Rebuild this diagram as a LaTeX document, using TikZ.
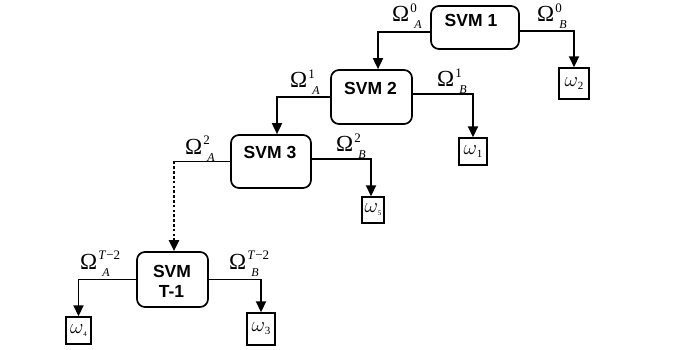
\documentclass[tikz,border=0pt]{standalone}
\usepackage{fontspec}
\setmainfont{Liberation Serif}
\newfontfamily\arialb{Liberation Sans}[BoldFont={* Bold}]
\usetikzlibrary{arrows.meta}
\newcommand\omlab[2]{{\fontsize{23}{23}\selectfont Ω}\rlap{\kern1pt\raisebox{9.5pt}{\fontsize{13}{13}\selectfont #1}}\kern5pt\raisebox{-7pt}{\fontsize{12}{12}\selectfont\itshape #2}}
\newcommand\wlab[2]{{\fontsize{20}{20}\selectfont$\omega$}\raisebox{-3pt}{\fontsize{#2}{#2}\selectfont #1}}
\tikzset{
  svmbox/.style={draw, rounded corners=8pt, line width=1.7pt, inner sep=0pt},
  wbox/.style={draw, line width=1.4pt, inner sep=0pt},
  svmtxt/.style={inner sep=0pt, anchor=base, font=\arialb\bfseries\fontsize{17.5}{17.5}\selectfont},
  lbl/.style={inner sep=0pt, anchor=base west},
  arr/.style={line width=1.8pt, -{Triangle[length=11pt,width=10pt]}},
  dotarr/.style={line width=2.6pt, dash pattern=on 2.6pt off 2.2pt, -{Triangle[length=11pt,width=10pt]}},
  ln/.style={line width=1.8pt}
}
\begin{document}
\begin{tikzpicture}[x=1pt,y=-1pt]
\useasboundingbox (0,0) rectangle (688,350);
% SVM boxes
\node[svmbox, minimum width=88pt, minimum height=43pt] (svm1) at (475,27.5) {};
\node[svmbox, minimum width=81pt, minimum height=54pt] (svm2) at (371.5,97) {};
\node[svmbox, minimum width=80pt, minimum height=53pt] (svm3) at (271,161.5) {};
\node[svmbox, minimum width=71pt, minimum height=55pt] (svmT) at (172.5,279.5) {};
\node[svmtxt] (svm1t) at (471,27) {SVM 1};
\node[svmtxt] (svm2t) at (370.5,95) {SVM 2};
\node[svmtxt] (svm3t) at (270,158) {SVM 3};
\node[svmtxt] (svmTa) at (172,277) {SVM};
\node[svmtxt] (svmTb) at (171.5,297) {T-1};
% omega boxes
\node[wbox, minimum width=30pt, minimum height=31pt] (w2) at (574,83.5) {\wlab{2}{11}};
\node[wbox, minimum width=28pt, minimum height=27pt] (w1) at (473,151.5) {\wlab{1}{11}};
\node[wbox, minimum width=22pt, minimum height=26pt] (w5) at (373,210) {\wlab{5}{7}};
\node[wbox, minimum width=25pt, minimum height=27pt] (w4) at (78.5,330.5) {\wlab{4}{7}};
\node[wbox, minimum width=28pt, minimum height=32pt] (w3) at (261,329) {\wlab{3}{11}};
% connectors
\draw[arr] ([yshift=-4.5pt]svm1.west) -| ([xshift=6.5pt]svm2.north);
\draw[arr] ([yshift=-3.5pt]svm1.east) -| (w2.north);
\draw[arr] (svm2.west) -| ([xshift=6pt]svm3.north);
\draw[arr] ([yshift=3pt]svm2.east) -| (w1.north);
\coordinate (c3) at (174,161.5);
\draw[ln] (svm3.west) -- (c3);
\draw[dotarr] (c3) -- (svmT.north -| c3);
\draw[arr] ([yshift=2.5pt]svm3.east) -| ([xshift=-2pt]w5.north);
\draw[arr] (svmT.west) -| (w4.north);
\draw[arr] (svmT.east) -| (w3.north);
% labels
\node[lbl] (la0) at (392,22) {\omlab{0}{A}};
\node[lbl] (lb0) at (537,22) {\omlab{0}{B}};
\node[lbl] (la1) at (290,88) {\omlab{1}{A}};
\node[lbl] (lb1) at (437,87) {\omlab{1}{B}};
\node[lbl] (la2) at (185,154) {\omlab{2}{A}};
\node[lbl] (lb2) at (336,152) {\omlab{2}{B}};
\node[lbl] (laT) at (80,269) {\omlab{\textit{T}−2}{A}};
\node[lbl] (lbT) at (229,269) {\omlab{\textit{T}−2}{B}};
\end{tikzpicture}
\end{document}
